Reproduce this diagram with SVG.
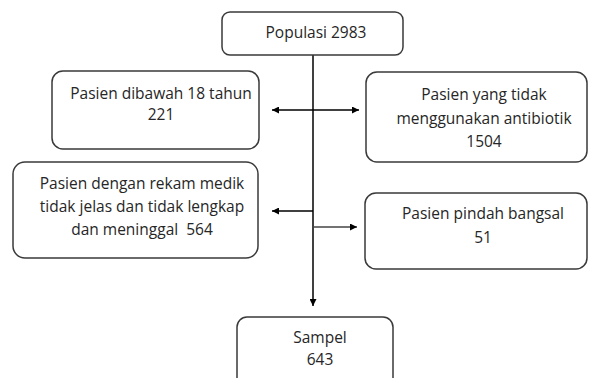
<svg xmlns="http://www.w3.org/2000/svg" width="589" height="378" viewBox="0 0 589 378">
<defs>
<marker id="ah" viewBox="0 0 10 10" refX="10" refY="5" markerWidth="9" markerHeight="7" markerUnits="userSpaceOnUse" orient="auto-start-reverse">
<path d="M0,0 L10,5 L0,10 Z" fill="#000"/>
</marker>
<style>
.box{fill:#fff;stroke:#3a3a3a;stroke-width:1.5}
.t{font-family:"Open Sans","Noto Sans",sans-serif;font-size:15.5px;fill:#262626;text-anchor:middle}
.c{stroke:#000;stroke-width:1.5;fill:none}
</style>
</defs>
<rect width="589" height="378" fill="#fff"/>
<g id="connectors">
<line class="c" x1="313" y1="55" x2="313" y2="306" marker-end="url(#ah)"/>
<line class="c" x1="272" y1="110" x2="359" y2="110" marker-start="url(#ah)" marker-end="url(#ah)"/>
<line class="c" x1="313" y1="211" x2="272" y2="211" marker-end="url(#ah)"/>
<line class="c" x1="313" y1="227" x2="357" y2="227" marker-end="url(#ah)" style="stroke:#444"/>
</g>
<g id="populasi">
<rect class="box" x="222" y="12" width="181" height="43" rx="8"/>
<text class="t" x="316" y="38">Populasi 2983</text>
</g>
<g id="dibawah18">
<rect class="box" x="52" y="71" width="207" height="78" rx="11"/>
<text class="t" x="161" y="99">Pasien dibawah 18 tahun</text>
<text class="t" x="161" y="120">221</text>
</g>
<g id="tidakantibiotik">
<rect class="box" x="366" y="72" width="221" height="90" rx="11"/>
<text class="t" x="484" y="100">Pasien yang tidak</text>
<text class="t" x="484" y="124">menggunakan antibiotik</text>
<text class="t" x="484" y="147">1504</text>
</g>
<g id="rekammedik">
<rect class="box" x="13" y="162" width="245" height="96" rx="12"/>
<text class="t" x="142" y="189">Pasien dengan rekam medik</text>
<text class="t" x="142" y="212">tidak jelas dan tidak lengkap</text>
<text class="t" x="142" y="235">dan meninggal&#160; 564</text>
</g>
<g id="pindahbangsal">
<rect class="box" x="365" y="193" width="222" height="76" rx="11"/>
<text class="t" x="483" y="219">Pasien pindah bangsal</text>
<text class="t" x="483" y="243">51</text>
</g>
<g id="sampel">
<rect class="box" x="237" y="317" width="156" height="80" rx="10"/>
<text class="t" x="320" y="343">Sampel</text>
<text class="t" x="320" y="365">643</text>
</g>
</svg>
